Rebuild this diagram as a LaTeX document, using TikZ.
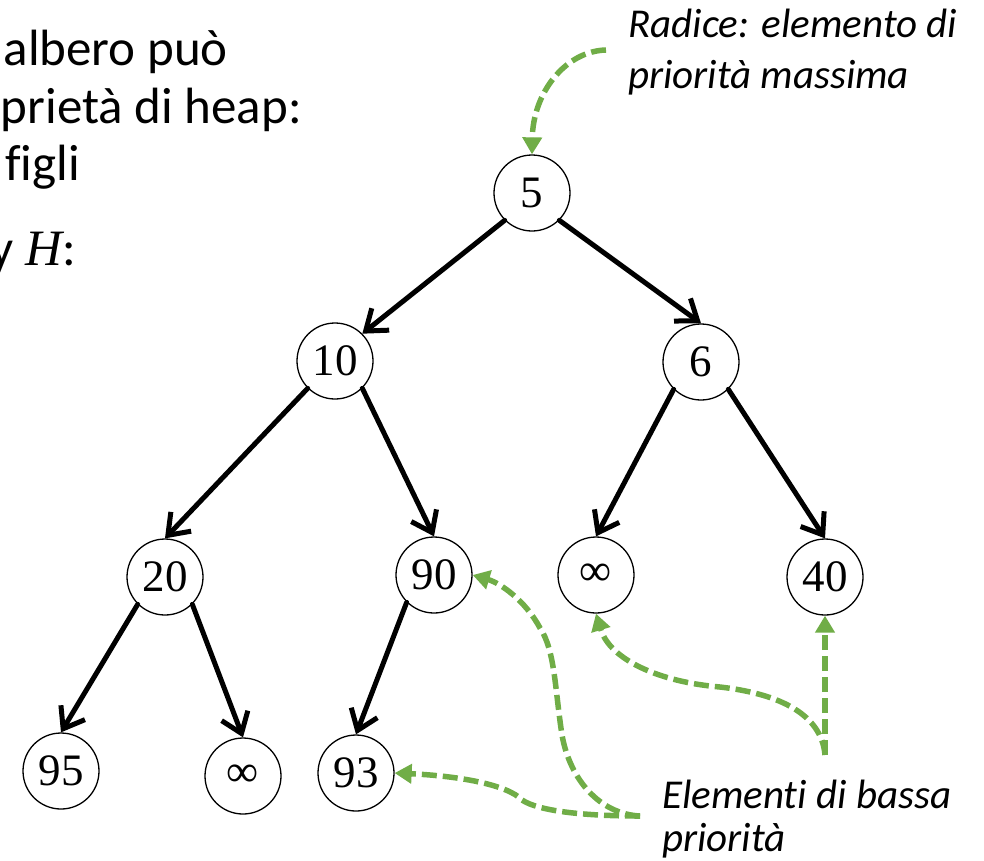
\documentclass[tikz,border=0pt]{standalone}
\usepackage{fontspec}
\setmainfont{Carlito}[Ligatures={NoCommon}]
\newfontfamily\tnrfont{Liberation Serif}
\usetikzlibrary{arrows.meta}
\definecolor{ogreen}{HTML}{70AD47}
\begin{document}
\begin{tikzpicture}[x=1pt,y=-1pt,
  hnode/.style={circle,draw,line width=1.3pt,minimum size=76pt,inner sep=0pt,font=\tnrfont\fontsize{45}{45}\selectfont},
  tedge/.style={line width=5pt,-{Straight Barb[length=19pt,width=28pt]},line cap=round,line join=round},
  gedge/.style={draw=ogreen,line width=5.5pt,dash pattern=on 15pt off 6pt,-{Triangle[length=17pt,width=19pt,fill=ogreen]}},
  lefttext/.style={anchor=base east,inner sep=0pt,font=\fontsize{51}{58}\selectfont},
  note/.style={anchor=base west,inner sep=0pt,font=\itshape\fontsize{41}{50}\selectfont}]
\useasboundingbox (0,0) rectangle (984,860);

% left text (clipped slide text)
\node[lefttext] (t1) at (228,65) {albero può};
\node[lefttext] (t2) at (302,123) {prietà di heap:};
\node[lefttext] (t3) at (80,180) {figli};
\node[lefttext] (t4) at (76,265) {y {\tnrfont\itshape H}:};

% notes
\node[note] (r1) at (628,37) {Radice: elemento di};
\node[note] (r2) at (628,88) {priorità massima};
\node[note] (b1) at (662,808) {Elementi di bassa};
\node[note] (b2) at (662,851) {priorità};

% heap nodes
\node[hnode] (n5) at (532,193) {5};
\node[hnode] (n10) at (335,361) {10};
\node[hnode] (n6) at (701,362) {6};
\node[hnode] (n20) at (165,577) {20};
\node[hnode] (n90) at (434,575) {90};
\node[hnode] (ninfA) at (596,575) {∞};
\node[hnode] (n40) at (825,577) {40};
\node[hnode] (n95) at (61,771) {95};
\node[hnode] (ninfB) at (243,776) {∞};
\node[hnode] (n93) at (356,773) {93};

% tree edges
\draw[tedge] (n5.south west) -- (n10.north east);
\draw[tedge] (n5.south east) -- (n6.north);
\draw[tedge] (n10.south west) -- (n20.north);
\draw[tedge] (n10.south east) -- (n90.north);
\draw[tedge] (n6.south west) -- (ninfA.north);
\draw[tedge] (n6.south east) -- (n40.north);
\draw[tedge] (n20.south west) -- (n95.north);
\draw[tedge] (n20.south east) -- (ninfB.north);
\draw[tedge] (n90.south west) -- (n93.north);

% green annotation arrows
\coordinate (rs) at (606,50);
\coordinate (es) at (640,816);
\coordinate (fs) at (825,755);
\draw[gedge] (rs) .. controls (566,51) and (533,92) .. (n5.north);
\draw[gedge] (es) .. controls (600,814) and (570,780) .. (562,735)
  .. controls (555,690) and (555,650) .. (540,628)
  .. controls (525,600) and (500,583) .. (n90.east);
\draw[gedge] (es) .. controls (590,816) and (540,812) .. (522,800)
  .. controls (508,785) and (460,776) .. (n93.east);
\draw[gedge] (fs) .. controls (822,720) and (790,695) .. (720,687)
  .. controls (660,682) and (610,660) .. (ninfA.south);
\draw[gedge] (fs) -- (n40.south);
\end{tikzpicture}
\end{document}
